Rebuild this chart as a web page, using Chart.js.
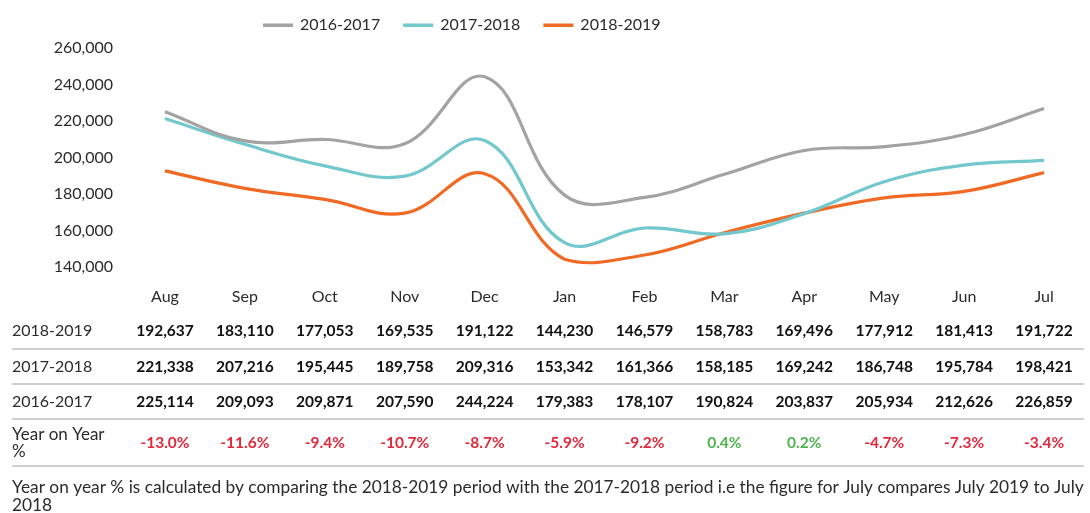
<!DOCTYPE html>
<html>
<head>
<meta charset="utf-8">
<script src="https://cdn.jsdelivr.net/npm/chart.js@4.4.1/dist/chart.umd.min.js"></script>
<style>
  html, body { margin: 0; padding: 0; background: #ffffff; }
  #wrap { width: 1090px; height: 513px; position: relative; }
</style>
</head>
<body>
<div id="wrap"><canvas id="c" width="1090" height="513"></canvas></div>
<script>
const months = ['Aug','Sep','Oct','Nov','Dec','Jan','Feb','Mar','Apr','May','Jun','Jul'];
const s2016 = [225114,209093,209871,207590,244224,179383,178107,190824,203837,205934,212626,226859];
const s2017 = [221338,207216,195445,189758,209316,153342,161366,158185,169242,186748,195784,198421];
const s2018 = [192637,183110,177053,169535,191122,144230,146579,158783,169496,177912,181413,191722];
const yoy = [-13.0,-11.6,-9.4,-10.7,-8.7,-5.9,-9.2,0.4,0.2,-4.7,-7.3,-3.4];
const yTicks = [140000,160000,180000,200000,220000,240000,260000];
const seriesLabels = ['2016-2017','2017-2018','2018-2019'];
const footnote = ['Year on year % is calculated by comparing the 2018-2019 period with the 2017-2018 period i.e the figure for July compares July 2019 to July','2018'];

const colors = ['#a3a3a3','#72c8cc','#f06a25'];
const FONT = 'Lato, "Open Sans", sans-serif';
const TXT = '#2b2b2b';

const fmt = v => v.toLocaleString('en-US');

const legendTablePlugin = {
  id: 'legendTable',
  afterDraw(chart) {
    const ctx = chart.ctx;
    const xs = chart.scales.x;
    ctx.save();
    // custom legend
    ctx.font = '16px ' + FONT;
    ctx.textBaseline = 'middle';
    ctx.textAlign = 'left';
    let lx = 263;
    const ly = 25;
    chart.data.datasets.forEach((ds) => {
      ctx.fillStyle = ds.borderColor;
      ctx.fillRect(lx, ly - 1.5, 30, 3.5);
      ctx.fillStyle = TXT;
      ctx.fillText(ds.label, lx + 37, ly);
      lx += 37 + ctx.measureText(ds.label).width + 23;
    });

    // table
    const rows = [
      { label: seriesLabels[2], data: s2018, y: 331 },
      { label: seriesLabels[1], data: s2017, y: 367 },
      { label: seriesLabels[0], data: s2016, y: 402 }
    ];
    rows.forEach(r => {
      ctx.textAlign = 'left';
      ctx.font = '16px ' + FONT;
      ctx.fillStyle = TXT;
      ctx.fillText(r.label, 12, r.y);
      ctx.textAlign = 'center';
      ctx.font = 'bold 15.5px ' + FONT;
      ctx.fillStyle = '#111';
      r.data.forEach((v, i) => {
        ctx.fillText(fmt(v), xs.getPixelForValue(i), r.y);
      });
    });
    // yoy row
    ctx.textAlign = 'left';
    ctx.font = '17px ' + FONT;
    ctx.fillStyle = TXT;
    ctx.fillText('Year on Year', 12, 435);
    ctx.fillText('%', 12, 452);
    ctx.textAlign = 'center';
    ctx.font = 'bold 15.5px ' + FONT;
    yoy.forEach((v, i) => {
      ctx.fillStyle = v < 0 ? '#e3283b' : '#4db34e';
      ctx.fillText(v.toFixed(1) + '%', xs.getPixelForValue(i), 443);
    });
    // separators
    ctx.strokeStyle = '#cfcfcf';
    ctx.lineWidth = 2;
    [349, 384, 419, 466].forEach(y => {
      ctx.beginPath();
      ctx.moveTo(12, y);
      ctx.lineTo(1084, y);
      ctx.stroke();
    });
    // footnote
    ctx.textAlign = 'left';
    ctx.fillStyle = TXT;
    let fs = 15;
    ctx.font = fs + 'px ' + FONT;
    const w = ctx.measureText(footnote[0]).width;
    fs = fs * 1072 / w;
    ctx.font = fs + 'px ' + FONT;
    ctx.fillText(footnote[0], 12, 487);
    ctx.fillText(footnote[1], 12, 505);
    ctx.restore();
  }
};

new Chart(document.getElementById('c'), {
  type: 'line',
  data: {
    labels: months,
    datasets: [
      { label: seriesLabels[0], data: s2016, borderColor: colors[0], backgroundColor: colors[0] },
      { label: seriesLabels[1], data: s2017, borderColor: colors[1], backgroundColor: colors[1] },
      { label: seriesLabels[2], data: s2018, borderColor: colors[2], backgroundColor: colors[2] }
    ].map(d => Object.assign(d, { borderWidth: 3.2, tension: 0.4, pointRadius: 0, fill: false, clip: false }))
  },
  options: {
    responsive: false,
    animation: false,
    devicePixelRatio: 1,
    layout: { padding: { top: 48, right: 6, bottom: 0, left: 0 } },
    plugins: { legend: { display: false }, tooltip: { enabled: false } },
    scales: {
      x: {
        offset: true,
        grid: { display: false, drawTicks: false },
        border: { display: false },
        ticks: { color: TXT, font: { family: FONT, size: 16 }, padding: 20, maxRotation: 0 },
        afterFit: s => { s.height = 246; }
      },
      y: {
        min: 140000, max: 260000,
        grid: { display: false, drawTicks: false },
        border: { display: false },
        afterBuildTicks: s => { s.ticks = yTicks.map(v => ({ value: v })); },
        ticks: { color: TXT, font: { family: FONT, size: 16 }, padding: 12, callback: v => fmt(v) },
        afterFit: s => { s.width = 125; }
      }
    }
  },
  plugins: [legendTablePlugin]
});
</script>
</body>
</html>
